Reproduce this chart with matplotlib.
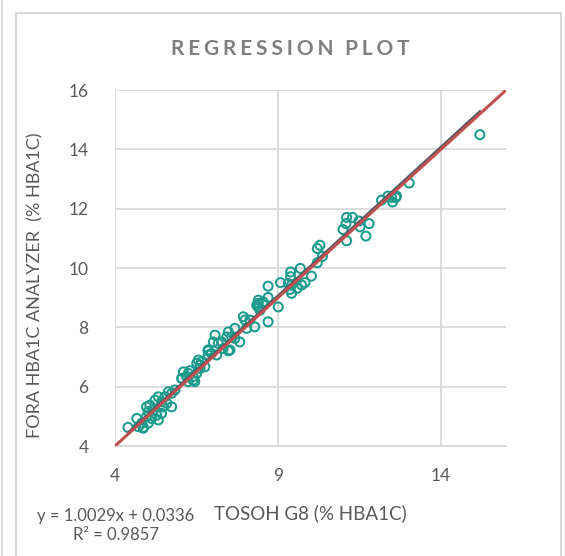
import matplotlib
matplotlib.use('Agg')
from matplotlib import pyplot as plt
from matplotlib.lines import Line2D
import numpy as np

# TOSOH G8 reading vs FORA analyzer reading
tosoh = [4.40, 4.67, 4.72, 4.87, 4.82, 5.02, 4.97, 5.12, 5.02, 4.97, 5.07, 5.17,
         5.28, 5.43, 5.33, 5.33, 5.23, 5.43, 5.59, 5.48, 5.74, 5.64, 5.74, 5.84,
         5.53, 6.05, 6.20, 6.25, 6.45, 6.51, 6.66, 6.61, 6.51, 6.40, 6.10, 6.25,
         6.40, 6.56, 6.61, 6.76, 6.30, 6.86, 6.96, 6.86, 7.12, 7.07, 7.02, 7.17,
         7.27, 7.53, 7.32, 7.48, 7.58, 7.43, 7.68, 7.83, 7.68, 7.94, 7.99, 8.14,
         8.29, 8.04, 8.40, 8.40, 8.40, 8.45, 8.55, 8.70, 8.35, 8.70, 8.70, 9.01,
         9.08, 9.32, 9.42, 9.37, 9.42, 9.59, 9.73, 9.83, 9.39, 9.39, 9.69, 10.03,
         10.21, 10.37, 10.21, 10.29, 11.00, 11.09, 11.11, 11.29, 11.49, 11.52,
         11.80, 11.11, 11.70, 12.18, 12.38, 12.49, 12.62, 12.52, 12.64, 13.03,
         15.20, 4.87, 6.05, 7.48, 6.86]
fora = [4.63, 4.93, 4.65, 4.60, 4.77, 5.16, 4.99, 4.93, 4.77, 5.32, 5.38, 5.21,
        5.04, 5.10, 4.88, 5.66, 5.55, 5.49, 5.44, 5.32, 5.32, 5.83, 5.78, 5.89,
        5.66, 6.28, 6.34, 6.17, 6.17, 6.79, 6.84, 6.62, 6.45, 6.22, 6.50, 6.45,
        6.34, 6.90, 6.73, 6.67, 6.54, 7.24, 7.12, 7.07, 7.07, 7.74, 7.51, 7.46,
        7.51, 7.24, 7.29, 7.85, 7.68, 7.68, 7.63, 7.51, 7.97, 8.36, 8.25, 8.25,
        8.02, 7.97, 8.92, 8.81, 8.69, 8.58, 8.86, 8.19, 8.75, 9.39, 9.01, 8.69,
        9.51, 9.48, 9.43, 9.28, 9.15, 9.32, 9.43, 9.51, 9.87, 9.71, 9.99, 9.73,
        10.18, 10.40, 10.66, 10.77, 11.30, 11.50, 11.71, 11.71, 11.59, 11.39,
        11.50, 10.92, 11.08, 12.29, 12.43, 12.38, 12.38, 12.23, 12.43, 12.87,
        14.50, 4.63, 6.28, 7.21, 7.21]

slope = 1.0029
intercept = 0.0336
r2 = 0.9857

x_ticks = [4, 9, 14]
y_ticks = [4, 6, 8, 10, 12, 14, 16]

grey_txt = '#595959'
grid_col = '#D9D9D9'
fnt = ['Lato', 'DejaVu Sans']

fig = plt.figure(figsize=(5.65, 5.56), dpi=100)
ax = fig.add_axes([0.2035, 0.1978, 0.692, 0.640])

ax.scatter(tosoh, fora, s=42, facecolors='none', edgecolors='#1A9B8D',
           linewidths=1.45, zorder=3)

# linear trendline over the data range, then the 1:1 line on top
xs = np.array([min(tosoh), max(tosoh)])
ax.plot(xs, slope * xs + intercept, color='#4E5866', lw=2.0, zorder=4)
ax.plot([4, 16], [4, 16], color='#C0504D', lw=2.2, zorder=5)

ax.set_xlim(4, 16)
ax.set_ylim(4, 16)
ax.set_xticks(x_ticks)
ax.set_yticks(y_ticks)
ax.grid(True, color=grid_col, lw=1.3)
ax.set_axisbelow(True)
for side in ['top', 'right', 'left']:
    ax.spines[side].set_visible(False)
ax.spines['bottom'].set_color(grid_col)
ax.spines['bottom'].set_linewidth(1.3)
ax.tick_params(length=0, labelsize=12.5, labelcolor=grey_txt)
ax.tick_params(axis='y', pad=19)
ax.tick_params(axis='x', pad=16)
for lbl in ax.get_xticklabels() + ax.get_yticklabels():
    lbl.set_family(fnt)

ax.set_xlabel('TOSOH G8 (% HBA1C)', fontsize=13.5, color=grey_txt, family=fnt)
ax.xaxis.set_label_coords(0.5, -0.163)
ax.set_ylabel('FORA HBA1C ANALYZER  (% HBA1C)', fontsize=13, color=grey_txt,
              family=fnt)
ax.yaxis.set_label_coords(-0.184, 0.452)

gap = '\u2009\u200a'
title = gap.join('REGRESSION') + gap + '\u2009 ' + gap.join('PLOT')
fig.text(0.513, 0.912, title, ha='center', va='center', fontsize=15,
         fontweight='bold', color='#7F7F7F', family=fnt)

fig.text(0.205, 0.055, 'y = 1.0029x + 0.0336\nR\u00b2 = 0.9857', ha='center',
         va='center', fontsize=12, color=grey_txt, family=fnt, linespacing=1.25)

# chart frame
fig.add_artist(Line2D([16 / 565, 16 / 565, 561 / 565, 561 / 565],
                      [0, 1 - 13 / 556, 1 - 13 / 556, 0],
                      transform=fig.transFigure, color=grid_col, lw=1.5))
fig.add_artist(Line2D([2 / 565, 2 / 565], [0, 1], transform=fig.transFigure,
                      color=grid_col, lw=1.5))

fig.savefig('out.png', dpi=100)
